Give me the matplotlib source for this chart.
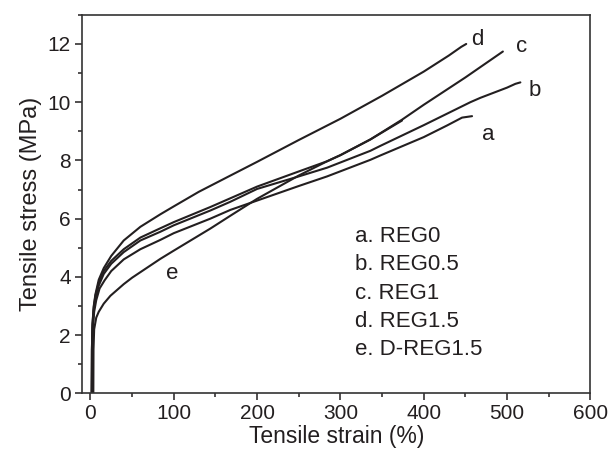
import matplotlib
matplotlib.use("Agg")
import matplotlib.pyplot as plt
from matplotlib.ticker import MultipleLocator

plt.rcParams["font.family"] = ["Liberation Sans", "DejaVu Sans"]

# stress-strain curves
strain_a = [2, 2.3, 3, 4.5, 7, 11, 17, 25, 40, 60, 84, 100, 144, 168, 200, 250, 284, 336, 348, 400, 428, 440, 446, 458]
stress_a = [0, 1.5, 2.25, 2.8, 3.2, 3.6, 3.88, 4.2, 4.6, 4.95, 5.27, 5.5, 6.0, 6.3, 6.62, 7.12, 7.45, 8.02, 8.17, 8.8, 9.2, 9.38, 9.47, 9.52]

strain_b = [1.8, 2.1, 2.8, 4, 6, 10, 16, 25, 40, 60, 84, 100, 144, 168, 200, 250, 284, 336, 348, 400, 456, 468, 500, 510, 516]
stress_b = [0, 1.5, 2.3, 2.85, 3.25, 3.7, 4.1, 4.45, 4.85, 5.25, 5.55, 5.77, 6.28, 6.58, 7.02, 7.45, 7.75, 8.33, 8.5, 9.21, 10.0, 10.15, 10.5, 10.63, 10.68]

strain_c = [1.5, 1.8, 2.5, 4, 6, 10, 16, 25, 40, 60, 84, 100, 144, 168, 200, 250, 284, 300, 336, 374, 400, 450, 495]
stress_c = [0, 1.5, 2.35, 2.95, 3.35, 3.8, 4.2, 4.55, 4.95, 5.35, 5.67, 5.88, 6.4, 6.7, 7.1, 7.62, 7.97, 8.18, 8.72, 9.4, 9.91, 10.85, 11.74]

strain_d = [1.5, 1.8, 2.5, 4, 6, 10, 16, 25, 40, 60, 84, 100, 130, 168, 200, 250, 300, 350, 400, 430, 445, 451]
stress_d = [0, 1.5, 2.4, 3.0, 3.4, 3.9, 4.3, 4.72, 5.25, 5.72, 6.15, 6.42, 6.92, 7.48, 7.95, 8.7, 9.43, 10.22, 11.05, 11.6, 11.9, 12.0]

strain_e = [3.5, 3.7, 4.5, 7, 10, 16, 24, 40, 50, 84, 100, 144, 168, 200, 250, 284, 300, 336, 374]
stress_e = [0, 1.5, 2.2, 2.6, 2.8, 3.08, 3.35, 3.75, 3.97, 4.62, 4.9, 5.66, 6.1, 6.68, 7.48, 7.97, 8.18, 8.72, 9.37]

curve_tags = ["a", "b", "c", "d", "e"]
tag_pos = [(478, 8.9), (533, 10.4), (517, 11.9), (464, 12.15), (98, 4.1)]
legend_lines = ["a. REG0", "b. REG0.5", "c. REG1", "d. REG1.5", "e. D-REG1.5"]

ink = "#231f20"

fig = plt.figure(figsize=(6.08, 4.5), dpi=100, facecolor="white")
ax = fig.add_axes([0.135, 0.126, 0.836, 0.841])

curves = [(strain_a, stress_a), (strain_b, stress_b), (strain_c, stress_c),
          (strain_d, stress_d), (strain_e, stress_e)]
for x, y in curves:
    ax.plot(x, y, color=ink, lw=1.5, solid_capstyle="round")

for tag, (tx, ty) in zip(curve_tags, tag_pos):
    ax.text(tx, ty, tag, fontsize=16, color=ink, ha="center", va="center")

for i, line in enumerate(legend_lines):
    ax.text(318, 5.38 - i * 0.97, line, fontsize=16, color=ink, ha="left", va="center")

ax.set_xlim(-10, 600)
ax.set_ylim(0, 13)
ax.xaxis.set_major_locator(MultipleLocator(100))
ax.xaxis.set_minor_locator(MultipleLocator(50))
ax.yaxis.set_major_locator(MultipleLocator(2))
ax.yaxis.set_minor_locator(MultipleLocator(1))
ax.tick_params(which="major", direction="out", length=5, width=1.1, labelsize=15,
               colors=ink, pad=3)
ax.tick_params(which="minor", direction="out", length=3, width=1.1, colors=ink)
for s in ax.spines.values():
    s.set_linewidth(1.2)
    s.set_color("#333333")

ax.set_xlabel("Tensile strain (%)", fontsize=16.5, color=ink, labelpad=1)
ax.set_ylabel("Tensile stress (MPa)", fontsize=17, color=ink, labelpad=4)

fig.savefig("out.png", dpi=100)
